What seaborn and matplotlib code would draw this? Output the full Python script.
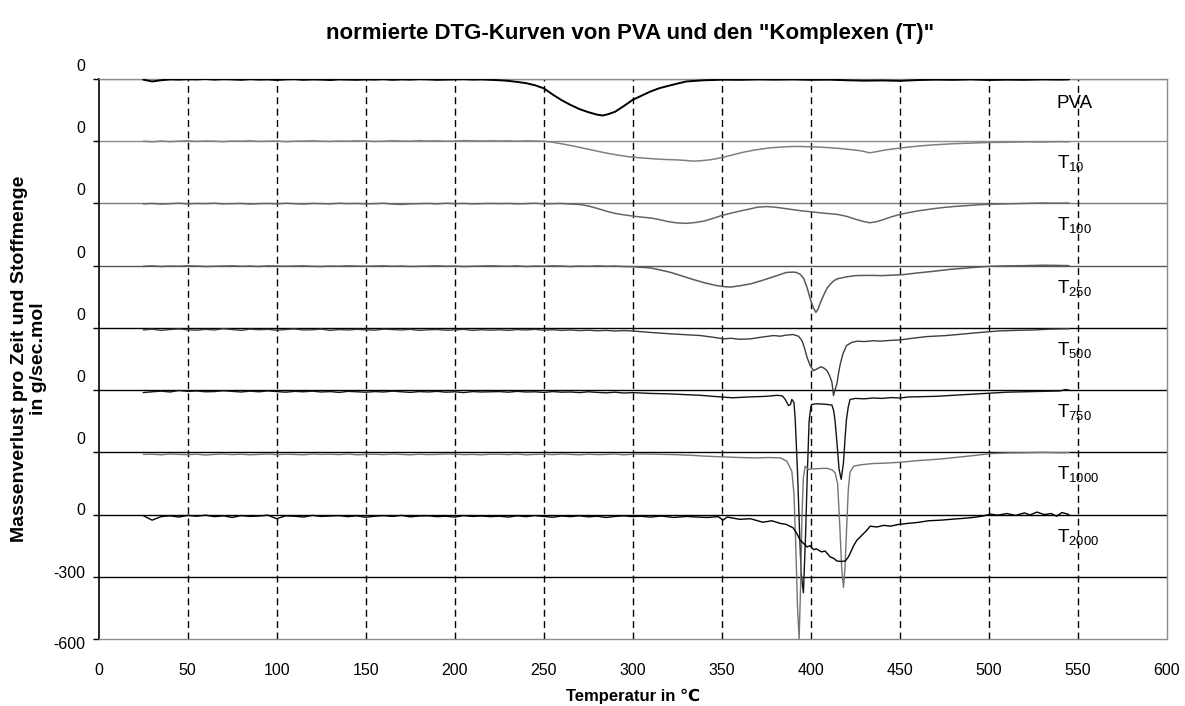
import numpy as np
import pandas as pd
import matplotlib
matplotlib.use("Agg")
import matplotlib.pyplot as plt
import matplotlib.transforms as mtransforms
import seaborn as sns

# ---------------- data ----------------
BASE_T = list(range(25, 225, 5))          # 25 ... 220 °C, common flat part
FEAT_T0 = [225, 230, 235, 240, 245, 250, 255, 260, 265, 270, 275, 280, 285, 290, 295, 300]

pva_t = BASE_T + [225, 230, 235, 240, 245, 250, 255, 260, 265, 270, 275, 280, 283, 286, 290, 295, 300,
                  305, 310, 315, 320, 325, 330, 335, 340, 345, 350, 360, 370, 380, 390, 400,
                  410, 420, 430, 440, 450, 460, 470, 480, 490, 500, 510, 520, 530, 540, 545]
pva_v = [-3, -12, -6, -2, -3, -1, -2, 0, -3, -1,
         -2, -4, -1, -3, -2, -5, -2, -1, -4, -2,
         -3, -5, -2, -3, -4, -2, -3, -1, -4, -2,
         -3, -1, -2, -4, -3, -2, -1, -3, -2, -4] + \
        [-6, -9, -14, -20, -30, -45, -75, -102, -125, -145, -160, -172, -176, -170, -158, -130, -100,
         -80, -60, -44, -33, -22, -12, -9, -6, -5, -3, -4, -2, -3, -2, -4,
         -3, -6, -8, -7, -9, -5, -3, -4, -2, -5, -3, -4, -2, -3, -2]

t10_t = BASE_T + [225, 230, 235, 240, 245, 250, 255, 261, 267, 273, 279, 285, 291, 297, 304, 312, 318, 325,
                  330, 334, 338, 343, 347, 351, 356, 362, 368, 377, 385, 392, 401, 408, 415, 422, 428,
                  433, 437, 442, 448, 455, 462, 470, 480, 490, 500, 510, 520, 530, 540, 545]
t10_v = [0, -3, 1, -2, 0, 2, -1, 1, 0, -2,
         1, 0, 2, -1, 0, 1, -2, 0, 1, 2,
         0, -1, 1, 0, 2, 1, -1, 0, 2, 1,
         0, 3, 1, 2, 0, 1, 3, 2, 1, 2] + \
        [1, 2, 0, 2, 1, 0, -5, -14, -24, -35, -46, -57, -66, -74, -80, -85, -88, -90,
         -93, -96, -94, -90, -84, -77, -66, -53, -43, -32, -27, -25, -27, -30, -34, -40, -46,
         -56, -50, -42, -35, -28, -22, -17, -12, -9, -6, -5, -3, -4, -2, -3]

t100_t = BASE_T + FEAT_T0 + [305, 310, 315, 320, 325, 330, 335, 340, 345, 350, 355, 360, 365, 370, 375,
                             380, 385, 390, 395, 400, 405, 410, 415, 420, 425, 430, 433, 437, 441, 445,
                             450, 455, 460, 465, 470, 475, 480, 485, 490, 495, 500, 510, 520, 530, 540, 545]
t100_v = [-2, 0, -3, -1, 1, -2, 0, -1, 1, -2,
          -1, 0, -3, -1, 0, -2, 1, -1, -3, 0,
          -1, -2, 1, -1, 0, -2, -1, 1, -3, -5,
          -2, -1, 0, -2, 1, -1, 0, -2, -1, 0] + \
         [-1, 0, -2, -1, 1, -2, -1, 0, -3, -5, -12, -24, -37, -48, -55, -61,
          -66, -70, -78, -88, -94, -96, -92, -85, -72, -58, -47, -37, -28, -18, -15,
          -18, -24, -30, -36, -40, -45, -49, -53, -62, -76, -88, -93, -88, -77, -65,
          -53, -44, -36, -30, -24, -19, -15, -12, -9, -6, -4, -2, 0, 2, 1, 2]

t250_t = BASE_T + FEAT_T0 + [305, 310, 315, 321, 327, 334, 340, 347, 351, 355, 360, 366, 372, 377, 382,
                             386, 390, 392, 394, 396, 398, 400, 401.5, 402.8, 404, 405, 407, 409, 411,
                             413, 415, 420, 425, 430, 435, 440, 445, 452, 460, 469, 478, 488, 495, 501,
                             510, 520, 530, 540, 545]
t250_v = [-3, -1, -4, -2, -3, -1, -2, -4, -3, -2,
          -1, -3, -2, -4, -1, -2, -3, -2, -1, -3,
          -4, -2, -3, -1, -2, -3, -2, -1, -3, -2,
          -4, -3, -2, -1, -3, -2, -4, -3, -2, -1] + \
         [-2, -3, -1, -4, -2, -3, -1, -2, -4, -2, -3, -1, -3, -2, -4, -5,
          -8, -11, -20, -32, -48, -67, -82, -96, -101, -103, -97, -88, -73, -59, -45,
          -33, -31, -33, -42, -62, -110, -170, -205, -225, -210, -185, -145, -110, -88,
          -72, -63, -54, -48, -47, -47, -48, -46, -43, -35, -27, -18, -11, -6, -3,
          -1, 0, 2, 1, 0]

t500_t = BASE_T + FEAT_T0 + [310, 320, 330, 338, 345, 351, 355, 360, 366, 372, 379, 383, 386, 390, 393,
                             395, 396.5, 397.8, 399.5, 401.5, 403, 405, 406, 407.5, 409, 410.5, 411.8,
                             412.7, 413.5, 414.6, 415.5, 416.5, 418, 420, 423, 426, 430, 435, 439, 445,
                             450, 457, 465, 476, 485, 495, 505, 515, 525, 535, 545]
t500_v = [-10, -6, -12, -8, -5, -9, -11, -7, -10, -4,
          -8, -12, -6, -9, -7, -11, -8, -5, -10, -9,
          -6, -12, -8, -10, -7, -9, -11, -6, -8, -10,
          -7, -12, -9, -8, -11, -10, -7, -12, -9, -11] + \
         [-9, -12, -8, -10, -7, -11, -9, -12, -10, -13, -11, -14, -12, -15, -13, -15,
          -22, -28, -33, -37, -45, -53, -50, -55, -53, -45, -37, -40, -35, -32, -40,
          -61, -100, -141, -180, -206, -200, -190, -188, -195, -206, -230, -262,
          -326, -300, -270, -220, -174, -125, -85, -70, -64, -66, -62, -64, -60,
          -58, -50, -42, -37, -30, -22, -15, -12, -10, -6, -4]

t750_t = BASE_T + FEAT_T0 + [310, 320, 330, 338, 345, 356, 365, 375, 381, 384, 385.6, 387.4, 388.5,
                             389.3, 390.5, 391.2, 392.5, 393.5, 394.5, 395.8, 397, 398, 399, 400, 400.5,
                             403, 406, 409, 411.8, 412.8, 413.6, 414.6, 415.8, 417, 418.3, 419.2, 420,
                             421, 422, 425, 430, 435, 440, 445, 450, 455, 460, 470, 480, 490, 500, 510,
                             520, 530, 540, 543, 545]
t750_v = [-12, -8, -5, -9, -2, -6, -4, -8, -7, -3,
          -6, -9, -5, -8, -4, -7, -10, -6, -8, -5,
          -9, -7, -11, -6, -8, -10, -7, -9, -5, -8,
          -11, -7, -9, -6, -10, -8, -12, -7, -9, -8] + \
         [-7, -10, -6, -9, -8, -11, -7, -10, -9, -12, -8, -11, -13, -10, -14, -12,
          -16, -18, -22, -25, -30, -37, -33, -30, -25, -28, -45, -74, -70,
          -45, -60, -141, -400, -650, -880, -977, -700, -400, -150, -80, -69,
          -66, -67, -69, -72, -100, -150, -250, -380, -430, -350, -230, -140,
          -80, -45, -40, -42, -38, -40, -36, -38, -33, -32, -30, -25, -20, -15, -10,
          -8, -6, -4, 3, 0]

t1000_t = BASE_T + FEAT_T0 + [304, 312, 323, 332, 340, 351, 360, 370, 376, 383, 386.5, 389.3, 390.5,
                              391.5, 392.5, 393.4, 394.2, 395, 395.8, 396.8, 397.8, 398.6, 400, 401.5,
                              405, 409, 412, 413.6, 415, 416.2, 417.3, 418.3, 419.2, 420, 421, 422, 424,
                              428, 435, 442, 450, 460, 473, 482, 491, 501, 510, 520, 530, 540, 545]
t1000_v = [-10, -9, -12, -8, -10, -11, -9, -13, -10, -8,
           -11, -9, -12, -10, -8, -11, -9, -10, -12, -8,
           -10, -9, -11, -8, -12, -10, -9, -11, -8, -10,
           -12, -9, -11, -10, -8, -9, -11, -10, -12, -9] + \
          [-9, -11, -8, -12, -10, -9, -11, -8, -10, -12, -9, -11, -10, -8, -12, -9,
           -8, -9, -11, -14, -18, -22, -25, -27, -25, -27, -43, -92, -200,
           -450, -750, -900, -650, -300, -120, -67, -75, -83, -80, -80,
           -78, -77, -85, -99, -150, -350, -560, -652, -550, -380, -180, -95, -67,
           -60, -54, -52, -48, -40, -32, -24, -16, -6, -3, -2, 0, -2, -1]

t2000_t = BASE_T + FEAT_T0 + [304, 310, 316, 323, 330, 336, 342, 348, 350.6, 353, 360, 366, 373, 378,
                              383, 386, 390, 392, 394, 396, 397.8, 399.5, 401.5, 403, 406, 408, 410.8,
                              413, 414.6, 417, 419.3, 421, 422, 424, 425.8, 427.5, 429.5, 431, 433.3,
                              437, 441, 444.6, 449, 454, 460, 466, 473, 480, 486, 491, 496, 501, 505,
                              510, 515, 520, 523, 527, 531, 535, 538, 541, 545]
t2000_v = [-5, -27, -10, -6, -12, -4, -8, -3, -10, -6,
           -14, -5, -9, -7, -3, -20, -6, -8, -12, -4,
           -9, -7, -5, -10, -6, -13, -8, -5, -9, -4,
           -11, -7, -6, -10, -8, -12, -5, -9, -7, -10] + \
          [-8, -12, -6, -10, -5, -9, -13, -7, -10, -6, -11, -8, -14, -9, -6, -10,
           -8, -12, -7, -14, -9, -12, -14, -10, -27, -12, -23, -20, -37, -30,
           -43, -47, -64, -90, -124, -140, -156, -150, -169, -165, -180, -176, -204,
           -212, -224, -226, -224, -205, -188, -150, -124, -110, -92, -80, -56,
           -60, -52, -56, -48, -43, -38, -30, -27, -22, -18, -14, -8, 2, -3,
           5, -4, 8, -2, 12, 0, 5, -8, 10, 0]

series_names = ["PVA", "T10", "T100", "T250", "T500", "T750", "T1000", "T2000"]
series_labels = ["PVA", r"$\mathregular{T_{10}}$", r"$\mathregular{T_{100}}$", r"$\mathregular{T_{250}}$",
                 r"$\mathregular{T_{500}}$", r"$\mathregular{T_{750}}$", r"$\mathregular{T_{1000}}$",
                 r"$\mathregular{T_{2000}}$"]
series_temps = [pva_t, t10_t, t100_t, t250_t, t500_t, t750_t, t1000_t, t2000_t]
series_vals = [pva_v, t10_v, t100_v, t250_v, t500_v, t750_v, t1000_v, t2000_v]

x_ticks = [0, 50, 100, 150, 200, 250, 300, 350, 400, 450, 500, 550, 600]
y_ticks = [-600, -300, 0, 300, 600, 900, 1200, 1500, 1800, 2100]
y_tick_labels = ["-600", "-300", "0", "0", "0", "0", "0", "0", "0", "0"]

title = 'normierte DTG-Kurven von PVA und den "Komplexen (T)"'
xlabel = "Temperatur in \u2103"
ylabel = "Massenverlust pro Zeit und Stoffmenge\nin g/sec.mol"

# ---------------- styling / layout ----------------
sns.set_theme(style="white")
plt.rcParams["font.family"] = ["Liberation Sans", "DejaVu Sans"]
plt.rcParams["mathtext.fontset"] = "custom"
plt.rcParams["mathtext.rm"] = "Liberation Sans"
plt.rcParams["mathtext.it"] = "Liberation Sans"
plt.rcParams["text.color"] = "black"
plt.rcParams["axes.labelcolor"] = "black"
plt.rcParams["xtick.color"] = "black"
plt.rcParams["ytick.color"] = "black"

offset_step = 300
n = len(series_names)
colors = ["#000000", "#808080", "#666666", "#5a5a5a", "#3c3c3c", "#141414", "#747474", "#000000"]
widths = [1.4, 1.1, 1.1, 1.1, 1.0, 1.0, 1.0, 1.0]

frames = []
for i, (name, t, v) in enumerate(zip(series_names, series_temps, series_vals)):
    off = (n - 1 - i) * offset_step
    frames.append(pd.DataFrame({"temp": t, "y": np.asarray(v, float) + off, "series": name}))
df = pd.concat(frames, ignore_index=True)

fig = plt.figure(figsize=(11.85, 7.06), dpi=100)
ax = fig.add_axes([0.0833, 0.0949, 0.9015, 0.7932])

# horizontal reference lines
hcols = ["#8c8c8c", "#8c8c8c", "#7a7a7a", "#555555", "#000000", "#000000", "#000000", "#000000", "#000000"]
for lvl, c in zip(y_ticks[1:][::-1], hcols):
    ax.axhline(lvl, color=c, lw=1.0, zorder=1)
# dashed vertical lines
ax.vlines(x_ticks[1:-1], y_ticks[0], y_ticks[-1], colors="black", linestyles=(0, (5, 3.2)), lw=1.0, zorder=1)

for i, name in enumerate(series_names):
    sns.lineplot(data=df[df["series"] == name], x="temp", y="y", sort=False, estimator=None,
                 color=colors[i], lw=widths[i], ax=ax, zorder=3)
    off = (n - 1 - i) * offset_step
    dy = -120 if name == "PVA" else -106
    ax.text(538, off + dy, series_labels[i], fontsize=13.5, ha="left", va="center", color="black", zorder=4)

ax.set_xlim(0, 600)
ax.set_ylim(-600, 2100)
ax.set_xticks(x_ticks)
ax.set_xticklabels([str(x) for x in x_ticks], fontsize=11.5)
ax.set_yticks(y_ticks)
ax.set_yticklabels(y_tick_labels, fontsize=11.5)
ax.tick_params(axis="x", length=0, pad=17)
ax.tick_params(axis="y", length=4, width=1, color="black", pad=6, left=True, direction="out")

# Excel-like label displacement of the y tick labels
shift_px = {-600: -4, -300: 5, 0: 6}
for val, lab in zip(y_ticks, ax.get_yticklabels()):
    d = shift_px.get(val, 14) / 100.0
    lab.set_transform(lab.get_transform() + mtransforms.ScaledTranslation(0, d, fig.dpi_scale_trans))

for side in ["top", "right", "bottom"]:
    ax.spines[side].set_color("#8c8c8c")
    ax.spines[side].set_linewidth(1.0)
ax.spines["left"].set_color("black")
ax.spines["left"].set_linewidth(1.2)

ax.set_xlabel(xlabel, fontsize=12, fontweight="bold", labelpad=8)
ax.set_ylabel(ylabel, fontsize=14, fontweight="bold", labelpad=4)
fig.suptitle(title, fontsize=16, fontweight="bold", x=0.532, y=0.952, va="center")

fig.savefig("out.png", dpi=100, facecolor="white")
